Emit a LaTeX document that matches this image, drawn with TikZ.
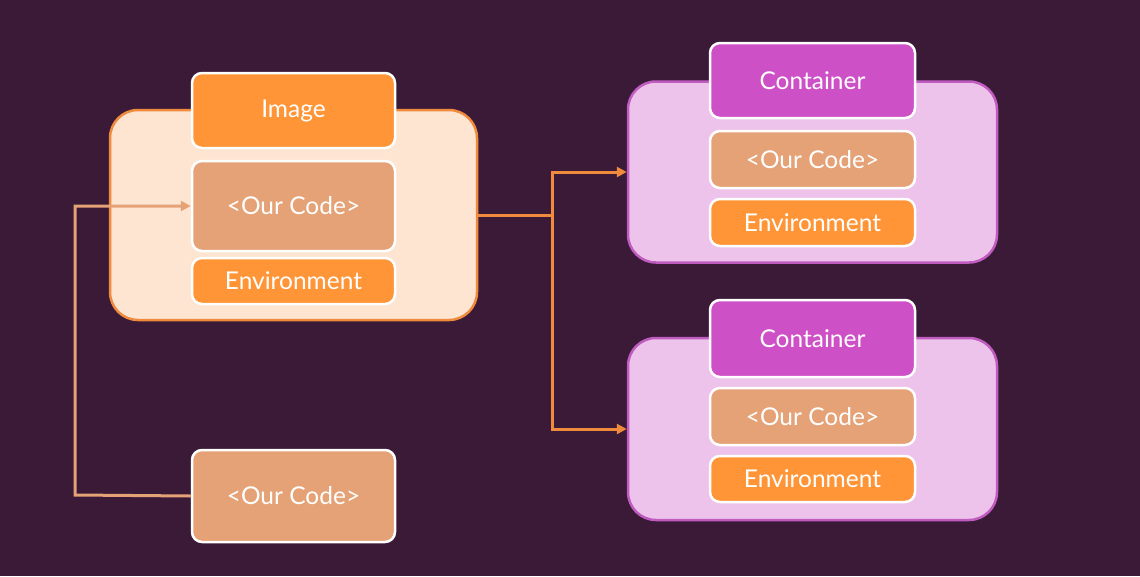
\documentclass[tikz,border=0pt]{standalone}
\usepackage{fontspec}
\setmainfont{Lato}
\usetikzlibrary{arrows.meta}
\definecolor{bg}{HTML}{3A1A37}
\definecolor{orng}{HTML}{FF9536}
\definecolor{orline}{HTML}{F08A3C}
\definecolor{codec}{HTML}{E5A276}
\definecolor{imgfill}{HTML}{FDE5D2}
\definecolor{magenta}{HTML}{CE50C6}
\definecolor{cfill}{HTML}{EDC3EB}
\definecolor{cline}{HTML}{C05CC0}
\tikzset{
  outerbox/.style={draw, line width=2.5pt, rounded corners=28pt, minimum width=367pt},
  inner/.style={draw=white, line width=2.5pt, rounded corners=10pt, text=white, font=\fontsize{24.5}{28}\selectfont, minimum width=203pt},
  conn/.style={line width=3pt},
  tip/.style={-{Triangle[length=10pt,width=10pt]}}
}
\begin{document}
\begin{tikzpicture}[x=1pt,y=-1pt]
\fill[bg] (0,0) rectangle (1140,576);
\useasboundingbox (0,0) rectangle (1140,576);
% Image
\node[outerbox, draw=orline, fill=imgfill, minimum height=210pt] (imgbox) at (293.5,215) {};
\node[inner, fill=orng, minimum height=75pt] (imgtitle) at (293.5,110.5) {Image};
\node[inner, fill=codec, minimum height=90pt] (icode) at (293.5,206) {<Our Code>};
\node[inner, fill=orng, minimum height=46pt] (ienv) at (293.5,281) {Environment};
% Container 1
\node[outerbox, draw=cline, fill=cfill, minimum width=369pt, minimum height=181pt] (c1box) at (812.5,172) {};
\node[inner, fill=magenta, minimum width=205pt, minimum height=75pt] (c1title) at (812.5,80.5) {Container};
\node[inner, fill=codec, minimum width=205pt, minimum height=57pt] (c1code) at (812.5,159.5) {<Our Code>};
\node[inner, fill=orng, minimum width=205pt, minimum height=47pt] (c1env) at (812.5,222.5) {Environment};
% Container 2
\node[outerbox, draw=cline, fill=cfill, minimum width=369pt, minimum height=182pt] (c2box) at (812.5,429) {};
\node[inner, fill=magenta, minimum width=205pt, minimum height=77pt] (c2title) at (812.5,338.5) {Container};
\node[inner, fill=codec, minimum width=205pt, minimum height=57pt] (c2code) at (812.5,416.5) {<Our Code>};
\node[inner, fill=orng, minimum width=205pt, minimum height=46pt] (c2env) at (812.5,479) {Environment};
% Bottom code
\node[inner, fill=codec, minimum height=92pt] (bcode) at (293.5,496) {<Our Code>};
% connectors
\coordinate (j) at (552,215);
\coordinate (k) at (75,495);
\draw[conn, orline] (imgbox.east) -- (j);
\draw[conn, orline, tip] (j) |- (c1box.west);
\draw[conn, orline, tip] (j) |- (c2box.west);
\draw[conn, codec, tip] (bcode.west) -- (k) |- (icode.west);
\end{tikzpicture}
\end{document}
